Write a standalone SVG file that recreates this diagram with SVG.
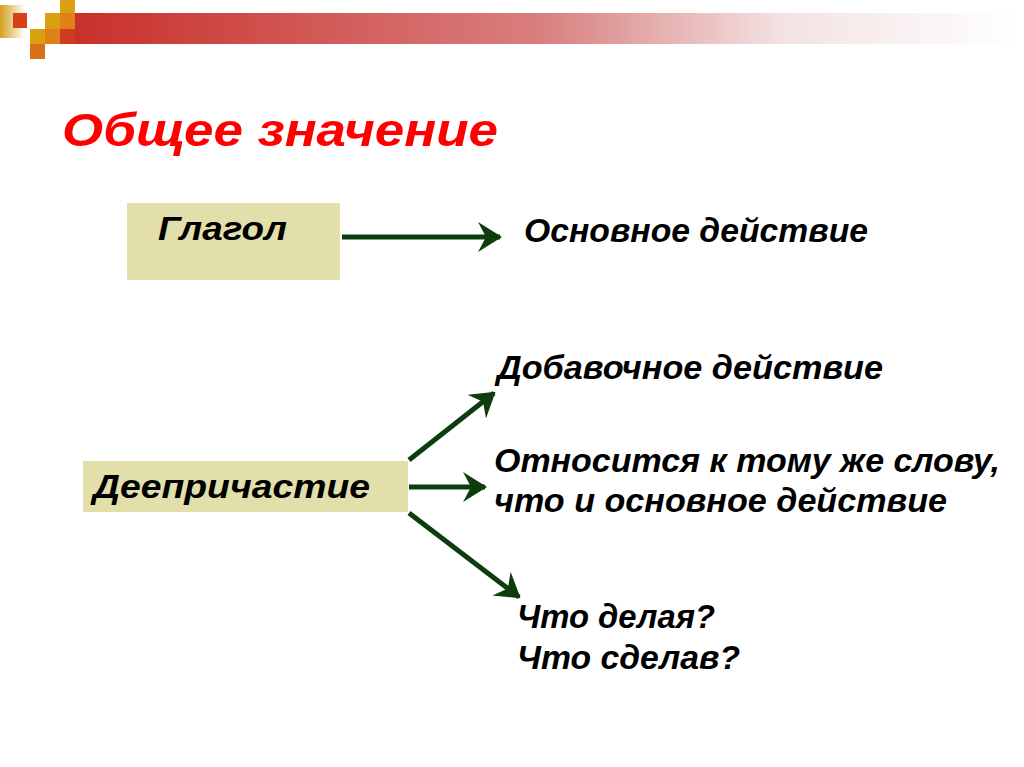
<svg xmlns="http://www.w3.org/2000/svg" width="1024" height="767" viewBox="0 0 1024 767">
<defs>
<linearGradient id="bar" x1="0" y1="0" x2="1" y2="0">
<stop offset="0" stop-color="#c9302a"/>
<stop offset="0.5" stop-color="#d98080"/>
<stop offset="0.75" stop-color="#f3e2e2"/>
<stop offset="1" stop-color="#ffffff"/>
</linearGradient>
<linearGradient id="goldg" x1="0" y1="0" x2="1" y2="0">
<stop offset="0" stop-color="#d4a020"/>
<stop offset="1" stop-color="#ffffff"/>
</linearGradient>
<marker id="ah" viewBox="0 0 24 30" refX="22" refY="15" markerWidth="24" markerHeight="30" markerUnits="userSpaceOnUse" orient="auto">
<path d="M0,0 L24,15 L0,30 L8,15 Z" fill="#0d3d0d"/>
</marker>
<style>
.box{fill:#e2dfaa}
.t{font-family:"Liberation Sans",Arial,sans-serif;font-weight:bold;font-style:italic;fill:#000}
.c{stroke:#0d3d0d;stroke-width:5;fill:none;marker-end:url(#ah)}
</style>
</defs>
<g id="header">
<rect x="0" y="5" width="25" height="33" fill="url(#goldg)"/>
<rect x="75" y="13" width="942" height="31" fill="url(#bar)"/>
<rect x="13" y="13" width="14" height="15" fill="#d8401a"/>
<rect x="45" y="13" width="15" height="16" fill="#d9a010"/>
<rect x="60" y="0" width="15" height="14" fill="#d9a010"/>
<rect x="60" y="13" width="15" height="16" fill="#e0801a"/>
<rect x="30" y="29" width="15" height="15" fill="#d9a010"/>
<rect x="45" y="29" width="15" height="15" fill="#e0801a"/>
<rect x="30" y="44" width="15" height="15" fill="#d8701a"/>
<rect x="60" y="29" width="15" height="15" fill="#d03a20"/>
</g>
<text class="t" x="62" y="146" font-size="46" style="fill:#ff0000" textLength="436" lengthAdjust="spacingAndGlyphs">Общее значение</text>
<g id="glagol">
<rect class="box" x="127" y="203" width="213" height="77"/>
<text class="t" x="158" y="240" font-size="34" textLength="129" lengthAdjust="spacingAndGlyphs">Глагол</text>
</g>
<g id="osnovnoe">
<text class="t" x="524" y="242" font-size="33" textLength="344" lengthAdjust="spacingAndGlyphs">Основное действие</text>
</g>
<g id="deeprichastie">
<rect class="box" x="83" y="461" width="325" height="51"/>
<text class="t" x="93" y="498" font-size="34" textLength="277" lengthAdjust="spacingAndGlyphs">Деепричастие</text>
</g>
<g id="dobavochnoe">
<text class="t" x="497" y="379" font-size="33" textLength="386" lengthAdjust="spacingAndGlyphs">Добавочное действие</text>
</g>
<g id="otnositsya">
<text class="t" x="494" y="472" font-size="33" textLength="506" lengthAdjust="spacingAndGlyphs">Относится к тому же слову,</text>
<text class="t" x="494" y="512" font-size="33" textLength="453" lengthAdjust="spacingAndGlyphs">что и основное действие</text>
</g>
<g id="chto">
<text class="t" x="517" y="628" font-size="33" textLength="198" lengthAdjust="spacingAndGlyphs">Что делая?</text>
<text class="t" x="517" y="669" font-size="33" textLength="223" lengthAdjust="spacingAndGlyphs">Что сделав?</text>
</g>
<g id="connectors">
<line class="c" x1="342" y1="237" x2="500" y2="237"/>
<line class="c" x1="409" y1="460" x2="494" y2="393"/>
<line class="c" x1="409" y1="487" x2="485" y2="487"/>
<line class="c" x1="409" y1="513" x2="519" y2="597"/>
</g>
</svg>
